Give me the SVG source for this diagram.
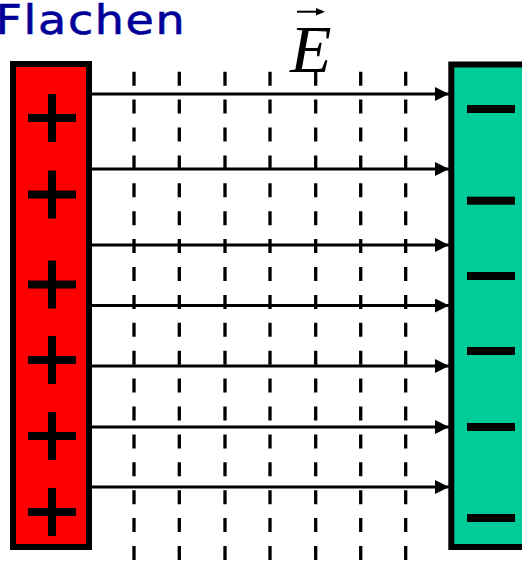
<svg xmlns="http://www.w3.org/2000/svg" width="522" height="563" viewBox="0 0 522 563">
<style>
.dash{stroke:#000;stroke-width:3.3;stroke-dasharray:14 13.9;fill:none}
.field{stroke:#000;stroke-width:3;fill:none;marker-end:url(#ah)}
.plate{stroke:#000;stroke-width:6}
.sign{fill:#000}
</style>
<defs>
<marker id="ah" markerUnits="userSpaceOnUse" markerWidth="14" markerHeight="14" refX="14" refY="7" orient="auto">
<path d="M0,0 L14,7 L0,14 z" fill="#000"/>
</marker>
<g id="plus"><rect x="28" y="-4" width="48" height="8"/><rect x="48" y="-24" width="8" height="48"/></g>
<g id="minus"><rect x="467" y="-4" width="48" height="8"/></g>
</defs>
<rect width="522" height="563" fill="#fff"/>
<text transform="scale(1.15,1)" x="-3.9" y="33.5" font-family="DejaVu Sans, sans-serif" font-size="40" fill="#000099" stroke="#000099" stroke-width="0.6" textLength="164.5" lengthAdjust="spacing">Flachen</text>
<g id="evec">
<text x="290" y="72" font-family="Liberation Serif, serif" font-style="italic" font-size="68">E</text>
<line x1="297" y1="11.7" x2="318" y2="11.7" stroke="#000" stroke-width="2"/>
<path d="M316,8 L325,11.7 L316,15.4 z" fill="#000"/>
</g>
<g id="equipotentials">
<line class="dash" x1="134" y1="71.7" x2="134" y2="563"/>
<line class="dash" x1="179.3" y1="71.7" x2="179.3" y2="563"/>
<line class="dash" x1="225" y1="71.7" x2="225" y2="563"/>
<line class="dash" x1="270" y1="71.7" x2="270" y2="563"/>
<line class="dash" x1="315.7" y1="71.7" x2="315.7" y2="563"/>
<line class="dash" x1="360.7" y1="71.7" x2="360.7" y2="563"/>
<line class="dash" x1="405.7" y1="71.7" x2="405.7" y2="563"/>
</g>
<g id="connectors">
<line class="field" x1="90" y1="94" x2="449" y2="94"/>
<line class="field" x1="90" y1="169" x2="449" y2="169"/>
<line class="field" x1="90" y1="245" x2="449" y2="245"/>
<line class="field" x1="90" y1="305.5" x2="449" y2="305.5"/>
<line class="field" x1="90" y1="366" x2="449" y2="366"/>
<line class="field" x1="90" y1="427" x2="449" y2="427"/>
<line class="field" x1="90" y1="487" x2="449" y2="487"/>
</g>
<g id="positive-plate">
<rect class="plate" x="13" y="64" width="76" height="483" fill="#ff0000"/>
<g class="sign">
<use href="#plus" y="118"/>
<use href="#plus" y="194.5"/>
<use href="#plus" y="284.5"/>
<use href="#plus" y="360"/>
<use href="#plus" y="436"/>
<use href="#plus" y="512"/>
</g>
</g>
<g id="negative-plate">
<rect class="plate" x="451.3" y="64.5" width="100" height="482.5" fill="#00cc99"/>
<g class="sign">
<use href="#minus" y="109"/>
<use href="#minus" y="200.7"/>
<use href="#minus" y="276"/>
<use href="#minus" y="351"/>
<use href="#minus" y="427"/>
<use href="#minus" y="518"/>
</g>
</g>
</svg>
